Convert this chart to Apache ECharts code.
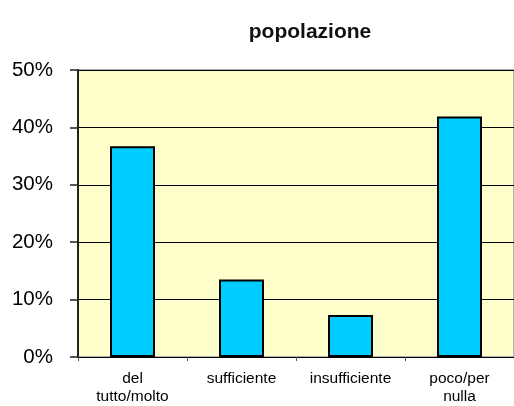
<!DOCTYPE html>
<html>
<head>
<meta charset="utf-8">
<script src="https://cdn.jsdelivr.net/npm/echarts@6/dist/echarts.min.js"></script>
<style>
    html, body {margin: 0; padding: 0; background: #fff;}
    #chart {width: 514px; height: 406px;}
</style>
</head>
<body>
<div id="chart"></div>
<script>
// categorie e valori (%)
var categories = ['del\ntutto/molto', 'sufficiente', 'insufficiente', 'poco/per\nnulla'];
var values = [36.7, 13.5, 7.3, 41.9];
var yTicks = [0, 10, 20, 30, 40, 50];

var chart = echarts.init(document.getElementById('chart'));
chart.setOption({
    animation: false,
    backgroundColor: '#fff',
    title: {
        text: 'popolazione',
        left: 305,
        top: 17,
        textAlign: 'center',
        textStyle: {fontFamily: 'Liberation Sans', fontSize: 21, fontWeight: 'bold', color: '#111'}
    },
    grid: {
        left: 78, top: 70, right: -8, bottom: 48,
        show: true, backgroundColor: '#FFFFCC', borderColor: '#999', borderWidth: 1.5
    },
    xAxis: {
        type: 'category',
        data: categories,
        axisLine: {lineStyle: {color: '#000', width: 1}},
        axisTick: {show: true, length: 4, lineStyle: {color: '#555'}},
        axisLabel: {
            color: '#000', fontFamily: 'Liberation Sans', fontSize: 15.5,
            lineHeight: 18, margin: 13, interval: 0
        }
    },
    yAxis: {
        type: 'value',
        min: yTicks[0],
        max: yTicks[yTicks.length - 1],
        interval: 10,
        axisLine: {show: true, lineStyle: {color: '#222', width: 2}},
        axisTick: {show: true, length: 8, lineStyle: {color: '#222', width: 1.5}},
        axisLabel: {
            formatter: '{value}%', color: '#000', fontFamily: 'Liberation Sans', fontSize: 20.5, margin: 25
        },
        splitLine: {lineStyle: {color: '#000', width: 1}}
    },
    series: [{
        type: 'bar',
        data: values,
        barWidth: 45,
        itemStyle: {color: '#00CCFF', borderColor: '#000', borderWidth: 2}
    }]
});
</script>
</body>
</html>
